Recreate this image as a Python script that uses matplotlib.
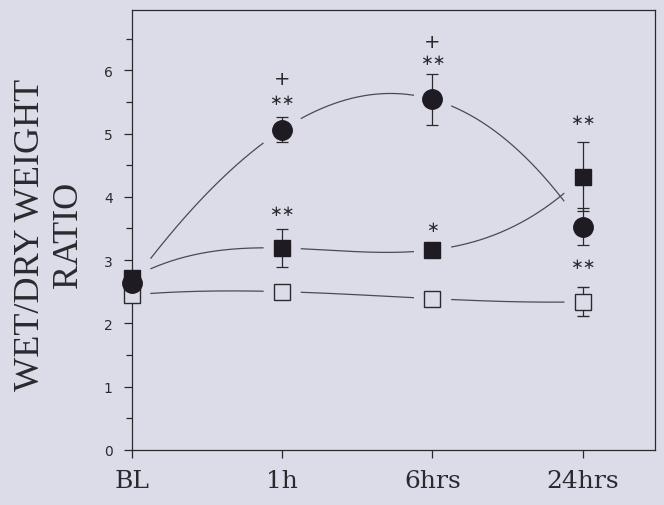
import numpy as np
import matplotlib
matplotlib.use("Agg")
import matplotlib.pyplot as plt

# dados
labels = ["BL", "1h", "6hrs", "24hrs"]
x_pos = np.arange(len(labels))

circle = [2.64, 5.06, 5.54, 3.53]
circle_err = [0.0, 0.2, 0.4, 0.3]

sq_filled = [2.72, 3.19, 3.16, 4.32]
sq_filled_err = [0.0, 0.3, 0.0, 0.55]

sq_open = [2.45, 2.50, 2.39, 2.34]
sq_open_err = [0.0, 0.0, 0.0, 0.23]

# marcas de significancia (x, y, texto)
marks = [(1, 5.87, "+"), (1, 5.54, "∗∗"), (1, 3.79, "∗∗"),
         (2, 6.46, "+"), (2, 6.17, "∗∗"), (2, 3.53, "∗"),
         (3, 5.22, "∗∗"), (3, 2.94, "∗∗")]

bg = "#dcdce8"
ink = "#2a2a2e"
fill = "#1f1b22"

fig = plt.figure(figsize=(6.64, 5.06), dpi=100, facecolor=bg)
ax = fig.add_axes([0.199, 0.109, 0.787, 0.869], facecolor=bg)


def curva(y):
    # cubica pelos 4 pontos, com falhas perto dos marcadores
    coef = np.polyfit(x_pos, y, 3)
    xs = np.linspace(0, 3, 600)
    ys = np.polyval(coef, xs)
    for xi in x_pos:
        ys[np.abs(xs - xi) < 0.125] = np.nan
    ax.plot(xs, ys, color="#4a4a50", lw=0.9, zorder=2)


curva(sq_open)
curva(sq_filled)
curva(circle)

conts = []
conts.append(ax.errorbar(x_pos, sq_open, yerr=sq_open_err, fmt="s", ms=12, mfc=bg, mec=ink,
                         mew=1.0, ecolor=ink, elinewidth=0.9, capsize=4, capthick=0.9,
                         zorder=3))
conts.append(ax.errorbar(x_pos, sq_filled, yerr=sq_filled_err, fmt="s", ms=12, mfc=fill,
                         mec=fill, ecolor=ink, elinewidth=0.9, capsize=4, capthick=0.9,
                         zorder=4))
conts.append(ax.errorbar(x_pos, circle, yerr=circle_err, fmt="o", ms=14, mfc=fill, mec=fill,
                         ecolor=ink, elinewidth=0.9, capsize=4, capthick=0.9, zorder=5))
for c in conts:
    for art in c.get_children():
        art.set_clip_on(False)

for mx, my, txt in marks:
    ax.text(mx, my, txt, ha="center", va="center", color=ink,
            fontsize=14 if txt == "+" else 11, family="DejaVu Sans")

ax.set_xlim(0, 3.48)
ax.set_ylim(0, 6.95)
ax.set_xticks(x_pos)
ax.set_xticklabels(labels, family="DejaVu Serif", fontsize=18, color=ink)
ax.set_yticks(range(7))
ax.set_yticks(np.arange(0.5, 7, 1.0), minor=True)
ax.tick_params(axis="y", which="major", length=6, width=0.9, pad=8, labelsize=10,
               colors=ink)
ax.tick_params(axis="y", which="minor", length=4, width=0.9, colors=ink)
ax.tick_params(axis="x", length=6, width=0.9, pad=8, colors=ink)
for s in ax.spines.values():
    s.set_color(ink)
    s.set_linewidth(0.9)

fig.text(0.075, 0.535, "WET/DRY WEIGHT\nRATIO", rotation=90, ha="center", va="center",
         multialignment="center", family="Liberation Serif", fontsize=26, color=ink,
         linespacing=1.2)

fig.savefig("out.png", dpi=100, facecolor=bg)
